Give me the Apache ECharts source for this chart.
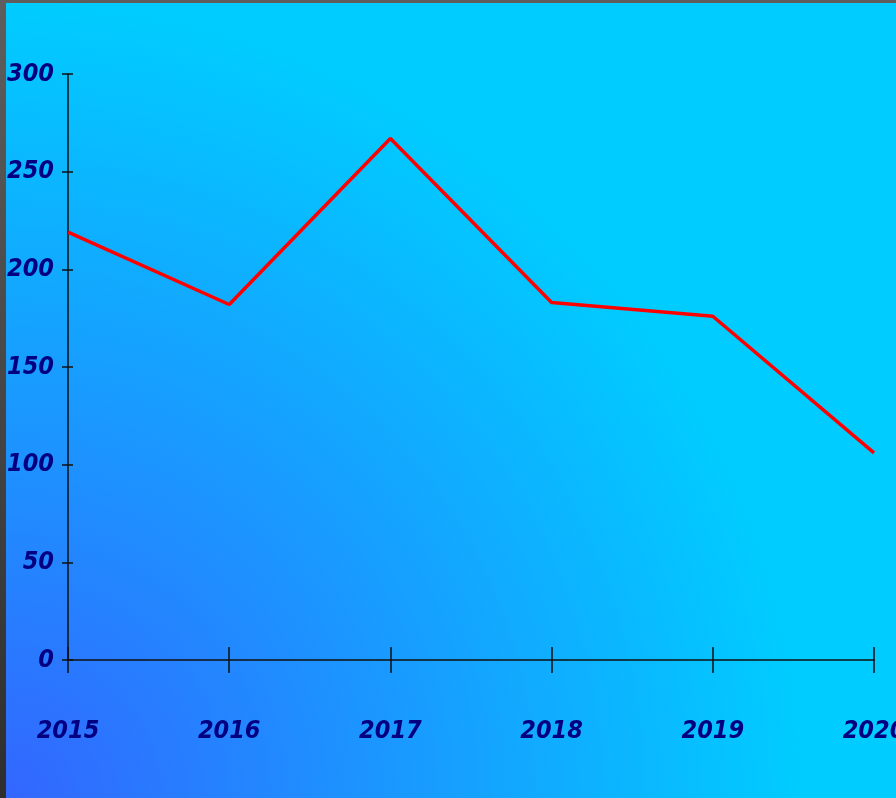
<!DOCTYPE html>
<html>
<head>
<meta charset="utf-8">
<script src="https://cdn.jsdelivr.net/npm/echarts@6/dist/echarts.min.js"></script>
<style>
html,body{margin:0;padding:0;width:896px;height:798px;overflow:hidden;background:linear-gradient(to bottom,#5e5e5e,#2e2e2e);}
#chart{position:absolute;left:6px;top:3px;width:890px;height:795px;}
</style>
</head>
<body>
<div id="chart"></div>
<script>
const years = ['2015','2016','2017','2018','2019','2020'];
const values = [219, 182, 267, 183, 176, 106];
const yMin = 0, yMax = 300, yInterval = 50;

const labelFont = {
  color: '#000080',
  fontFamily: '"DejaVu Sans Condensed", sans-serif',
  fontStyle: 'italic',
  fontWeight: 'bold',
  fontSize: 25
};
const chart = echarts.init(document.getElementById('chart'));
chart.setOption({
  backgroundColor: {
    type: 'radial', x: 0, y: 1, r: 1,
    colorStops: [{offset: 0, color: '#3366ff'}, {offset: 1, color: '#00ccff'}]
  },
  animation: false,
  grid: {left: 62, right: 22, top: 71, bottom: 138, containLabel: false, outerBoundsMode: 'none'},
  xAxis: [{
    type: 'category', data: years, boundaryGap: false,
    axisLine: {lineStyle: {color: '#111', width: 1.5}},
    axisTick: {show: true, length: 13, lineStyle: {color: '#111', width: 1.5}},
    axisLabel: Object.assign({margin: 59}, labelFont),
    splitLine: {show: false}
  }, {
    type: 'category', data: years, boundaryGap: false, position: 'bottom',
    axisLine: {show: false},
    axisTick: {show: true, inside: true, length: 13, lineStyle: {color: '#111', width: 1.5}},
    axisLabel: {show: false},
    splitLine: {show: false}
  }],
  yAxis: [{
    type: 'value', min: yMin, max: yMax, interval: yInterval,
    axisLine: {show: true, lineStyle: {color: '#111', width: 1.5}},
    axisTick: {show: true, length: 6, lineStyle: {color: '#111', width: 1.5}},
    axisLabel: Object.assign({margin: 14}, labelFont),
    splitLine: {show: false}
  }, {
    type: 'value', min: yMin, max: yMax, interval: yInterval, position: 'left',
    axisLine: {show: false},
    axisTick: {show: true, inside: true, length: 5, lineStyle: {color: '#111', width: 1.5}},
    axisLabel: {show: false},
    splitLine: {show: false}
  }],
  series: [{
    type: 'line', data: values, xAxisIndex: 0, yAxisIndex: 0,
    symbol: 'none', lineStyle: {color: '#ff0000', width: 3.5}
  }]
});
</script>
</body>
</html>
